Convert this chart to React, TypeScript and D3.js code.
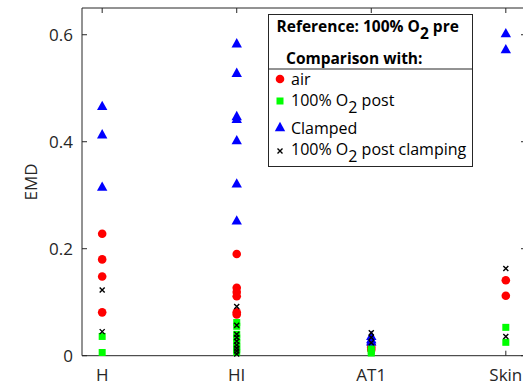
import React from "react";
import * as d3 from "d3";

const categories = ["H", "HI", "AT1", "Skin"];
const yTicks = [0, 0.2, 0.4, 0.6];

// values per category (H, HI, AT1, Skin)
const airValues = [
  [0.228, 0.18, 0.148, 0.081],
  [0.19, 0.127, 0.119, 0.111, 0.081, 0.077],
  [0.021, 0.016, 0.011],
  [0.141, 0.112],
];
const o2PostValues = [
  [0.036, 0.006],
  [0.062, 0.055, 0.04, 0.033, 0.025, 0.018, 0.012, 0.006],
  [0.014, 0.009, 0.005],
  [0.053, 0.025],
];
const clampedValues = [
  [0.467, 0.414, 0.316],
  [0.584, 0.529, 0.448, 0.443, 0.403, 0.322, 0.253],
  [0.037, 0.031, 0.027],
  [0.603, 0.573],
];
const postClampValues = [
  [0.123, 0.045],
  [0.092, 0.057, 0.04, 0.034, 0.027, 0.02, 0.014, 0.009, 0.003],
  [0.043, 0.034, 0.024],
  [0.163, 0.036],
];

const FONT = "'Open Sans', sans-serif";
const AX = "#262626";

export default function App() {
  const x = d3.scaleLinear().domain([0.85, 4.15]).range([82, 526]);
  const y = d3.scaleLinear().domain([0, 0.65]).range([355.7, 8]);
  const [x0, x1] = x.range();
  const [yb, yt] = y.range();
  const tickLen = 5;

  const pts = (vals: number[][]) =>
    vals.flatMap((arr, i) => arr.map((v) => ({ cx: x(i + 1), cy: y(v) })));

  const tri = (cx: number, cy: number, s = 5.2) =>
    `M${cx},${cy - s}L${cx + s},${cy + s * 0.8}L${cx - s},${cy + s * 0.8}Z`;

  const Circle = ({ cx, cy }: { cx: number; cy: number }) => (
    <circle cx={cx} cy={cy} r={4.3} fill="#ff0000" />
  );
  const Square = ({ cx, cy }: { cx: number; cy: number }) => (
    <rect x={cx - 3.5} y={cy - 3.5} width={7} height={7} fill="#00ff00" />
  );
  const Tri = ({ cx, cy }: { cx: number; cy: number }) => (
    <path d={tri(cx, cy)} fill="#0000ff" />
  );
  const Cross = ({ cx, cy }: { cx: number; cy: number }) => (
    <path
      d={`M${cx - 2.5},${cy - 2.5}L${cx + 2.5},${cy + 2.5}M${cx - 2.5},${cy + 2.5}L${cx + 2.5},${cy - 2.5}`}
      stroke="#000"
      strokeWidth={1.4}
    />
  );

  // legend geometry
  const lg = { x: 268.5, y: 14.5, w: 204, h: 152, sep: 69 };

  return (
    <svg
      width={523}
      height={387}
      style={{ position: "absolute", left: 0, top: 0, background: "#fff" }}
      fontFamily={FONT}
    >
      <rect x={0} y={0} width={523} height={387} fill="#fff" />
      {/* axes box */}
      <g stroke={AX} strokeWidth={1} fill="none">
        <line x1={x0} x2={x1} y1={yb} y2={yb} />
        <line x1={x0} x2={x1} y1={yt} y2={yt} />
        <line x1={x0} x2={x0} y1={yb} y2={yt} />
        <line x1={x1} x2={x1} y1={yb} y2={yt} />
        {categories.map((c, i) => (
          <g key={c}>
            <line x1={x(i + 1)} x2={x(i + 1)} y1={yb} y2={yb - tickLen} />
            <line x1={x(i + 1)} x2={x(i + 1)} y1={yt} y2={yt + tickLen} />
          </g>
        ))}
        {yTicks.map((t) => (
          <g key={t}>
            <line x1={x0} x2={x0 + tickLen} y1={y(t)} y2={y(t)} />
            <line x1={x1} x2={x1 - tickLen} y1={y(t)} y2={y(t)} />
          </g>
        ))}
      </g>
      {/* tick labels */}
      <g fill={AX} fontSize={17}>
        {categories.map((c, i) => (
          <text key={c} x={x(i + 1)} y={381} textAnchor="middle">
            {c}
          </text>
        ))}
        {yTicks.map((t) => (
          <text key={t} x={73} y={y(t) + 6} textAnchor="end">
            {t === 0 ? "0" : d3.format(".1f")(t)}
          </text>
        ))}
        <text
          transform={`translate(37,${y(0.325)}) rotate(-90)`}
          textAnchor="middle"
        >
          EMD
        </text>
      </g>
      {/* points */}
      <g>
        {pts(airValues).map((p, i) => (
          <Circle key={"a" + i} {...p} />
        ))}
        {pts(o2PostValues).map((p, i) => (
          <Square key={"g" + i} {...p} />
        ))}
        {pts(clampedValues).map((p, i) => (
          <Tri key={"t" + i} {...p} />
        ))}
        {pts(postClampValues).map((p, i) => (
          <Cross key={"x" + i} {...p} />
        ))}
      </g>
      {/* legend */}
      <g>
        <rect x={lg.x} y={lg.y} width={lg.w} height={lg.h} fill="#fff" stroke={AX} strokeWidth={1} />
        <line x1={lg.x} x2={lg.x + lg.w} y1={lg.sep} y2={lg.sep} stroke={AX} strokeWidth={1} />
        <text x={276.5} y={31.5} fontSize={15.5} fontWeight="bold" fill="#000">
          Reference: 100% O
          <tspan dy={7}>2</tspan>
          <tspan dy={-7}> pre</tspan>
        </text>
        <text x={286} y={64} fontSize={15.5} fontWeight="bold" fill="#000">
          Comparison with:
        </text>
        <Circle cx={280} cy={79} />
        <Square cx={280} cy={101} />
        <Tri cx={280} cy={127} />
        <Cross cx={280} cy={151} />
        <g fontSize={16} fill="#000">
          <text x={291} y={85}>air</text>
          <text x={291} y={106}>
            100% O<tspan dy={7}>2</tspan>
            <tspan dy={-7}> post</tspan>
          </text>
          <text x={291} y={134}>Clamped</text>
          <text x={291} y={155}>
            100% O<tspan dy={7}>2</tspan>
            <tspan dy={-7}> post clamping</tspan>
          </text>
        </g>
      </g>
    </svg>
  );
}
